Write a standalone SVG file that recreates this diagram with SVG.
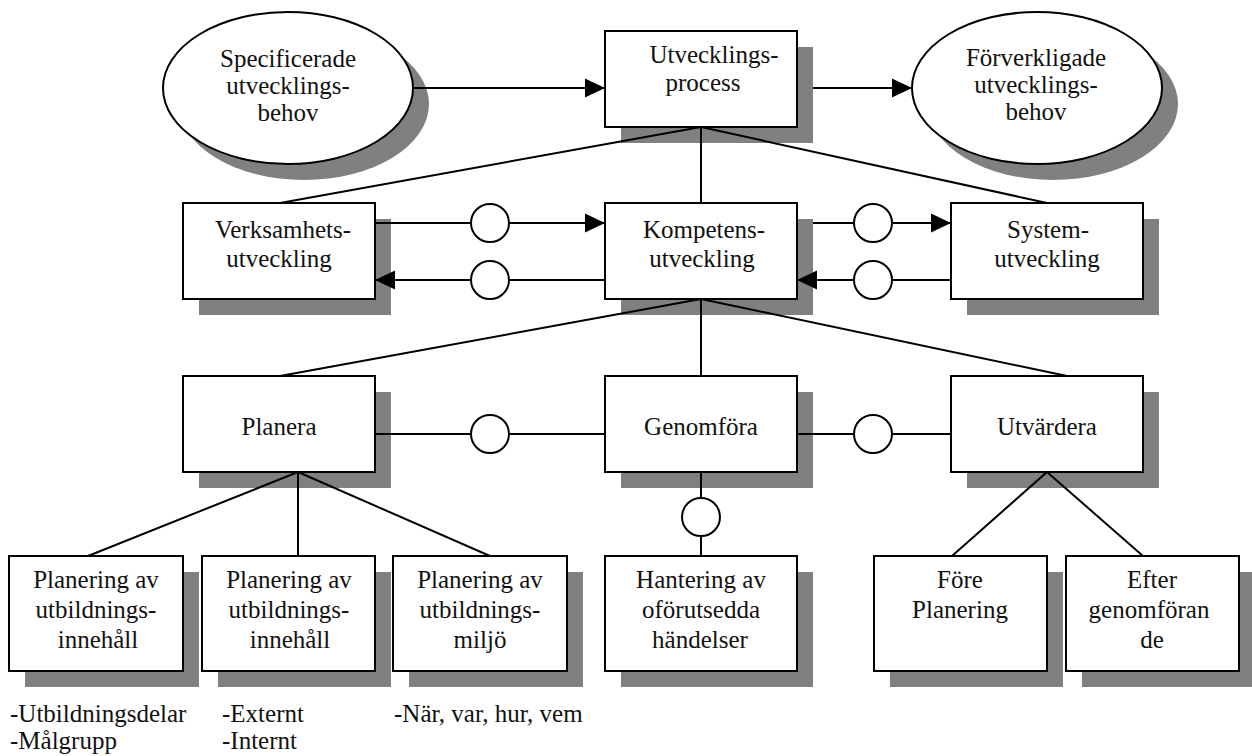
<svg xmlns="http://www.w3.org/2000/svg" width="1252" height="756" viewBox="0 0 1252 756">
  <style>
    .box { fill: #ffffff; stroke: #000000; stroke-width: 2; }
    .shadow { fill: #808080; stroke: none; }
    .lbl { font-family: "Liberation Serif", "Times New Roman", serif; font-size: 25px; fill: #111111; text-anchor: middle; }
    .note { font-family: "Liberation Serif", "Times New Roman", serif; font-size: 25px; fill: #111111; }
    .edge { stroke: #000000; stroke-width: 2; fill: none; }
    .arrow { marker-end: url(#head); }
    .junction { fill: #ffffff; stroke: #000000; stroke-width: 2; }
  </style>
  <defs>
    <marker id="head" markerUnits="userSpaceOnUse" markerWidth="20" markerHeight="20" refX="20" refY="10" orient="auto">
      <path d="M0,0.5 L20,10 L0,19.5 z" fill="#000000"/>
    </marker>
  </defs>
  <rect width="1252" height="756" fill="#ffffff"/>

  <!-- top row -->
  <g id="specificerade">
    <ellipse class="shadow" cx="304" cy="104" rx="125" ry="76"/>
    <ellipse class="box" cx="288" cy="88" rx="125" ry="76"/>
    <text class="lbl" x="288" y="67">Specificerade</text>
    <text class="lbl" x="288" y="94">utvecklings-</text>
    <text class="lbl" x="288" y="121">behov</text>
  </g>
  <g id="utvecklingsprocess">
    <rect class="shadow" x="621" y="47" width="192" height="96"/>
    <rect class="box" x="605" y="31" width="192" height="96"/>
    <text class="lbl" x="714" y="63">Utvecklings-</text>
    <text class="lbl" x="703" y="91">process</text>
  </g>
  <g id="forverkligade">
    <ellipse class="shadow" cx="1053" cy="104" rx="125" ry="76"/>
    <ellipse class="box" cx="1037" cy="88" rx="125" ry="76"/>
    <text class="lbl" x="1036" y="66">Förverkligade</text>
    <text class="lbl" x="1036" y="93">utvecklings-</text>
    <text class="lbl" x="1036" y="120">behov</text>
  </g>

  <!-- second row -->
  <g id="verksamhetsutveckling">
    <rect class="shadow" x="199" y="219" width="192" height="96"/>
    <rect class="box" x="183" y="203" width="192" height="96"/>
    <text class="lbl" x="283" y="238">Verksamhets-</text>
    <text class="lbl" x="279" y="267">utveckling</text>
  </g>
  <g id="kompetensutveckling">
    <rect class="shadow" x="621" y="219" width="192" height="96"/>
    <rect class="box" x="605" y="203" width="192" height="96"/>
    <text class="lbl" x="704" y="238">Kompetens-</text>
    <text class="lbl" x="702" y="267">utveckling</text>
  </g>
  <g id="systemutveckling">
    <rect class="shadow" x="967" y="219" width="192" height="96"/>
    <rect class="box" x="951" y="203" width="192" height="96"/>
    <text class="lbl" x="1048" y="238">System-</text>
    <text class="lbl" x="1047" y="267">utveckling</text>
  </g>

  <!-- third row -->
  <g id="planera">
    <rect class="shadow" x="199" y="392" width="192" height="96"/>
    <rect class="box" x="183" y="376" width="192" height="96"/>
    <text class="lbl" x="279" y="435">Planera</text>
  </g>
  <g id="genomfora">
    <rect class="shadow" x="621" y="392" width="192" height="96"/>
    <rect class="box" x="605" y="376" width="192" height="96"/>
    <text class="lbl" x="701" y="435">Genomföra</text>
  </g>
  <g id="utvardera">
    <rect class="shadow" x="967" y="392" width="192" height="96"/>
    <rect class="box" x="951" y="376" width="192" height="96"/>
    <text class="lbl" x="1047" y="435">Utvärdera</text>
  </g>

  <!-- fourth row -->
  <g id="planering-innehall-1">
    <rect class="shadow" x="25" y="572" width="174" height="115"/>
    <rect class="box" x="9" y="556" width="174" height="115"/>
    <text class="lbl" x="96" y="588">Planering av</text>
    <text class="lbl" x="96" y="618">utbildnings-</text>
    <text class="lbl" x="98" y="648">innehåll</text>
  </g>
  <g id="planering-innehall-2">
    <rect class="shadow" x="218" y="572" width="173" height="115"/>
    <rect class="box" x="202" y="556" width="173" height="115"/>
    <text class="lbl" x="289" y="588">Planering av</text>
    <text class="lbl" x="289" y="618">utbildnings-</text>
    <text class="lbl" x="290" y="648">innehåll</text>
  </g>
  <g id="planering-miljo">
    <rect class="shadow" x="409" y="572" width="174" height="115"/>
    <rect class="box" x="393" y="556" width="174" height="115"/>
    <text class="lbl" x="480" y="588">Planering av</text>
    <text class="lbl" x="480" y="618">utbildnings-</text>
    <text class="lbl" x="480" y="648">miljö</text>
  </g>
  <g id="hantering">
    <rect class="shadow" x="621" y="572" width="192" height="115"/>
    <rect class="box" x="605" y="556" width="192" height="115"/>
    <text class="lbl" x="701" y="588">Hantering av</text>
    <text class="lbl" x="701" y="618">oförutsedda</text>
    <text class="lbl" x="700" y="648">händelser</text>
  </g>
  <g id="fore">
    <rect class="shadow" x="890" y="572" width="173" height="115"/>
    <rect class="box" x="874" y="556" width="173" height="115"/>
    <text class="lbl" x="960" y="588">Före</text>
    <text class="lbl" x="960" y="618">Planering</text>
  </g>
  <g id="efter">
    <rect class="shadow" x="1082" y="572" width="173" height="115"/>
    <rect class="box" x="1066" y="556" width="173" height="115"/>
    <text class="lbl" x="1152" y="588">Efter</text>
    <text class="lbl" x="1149" y="618">genomföran</text>
    <text class="lbl" x="1152" y="648">de</text>
  </g>

  <!-- connectors -->
  <g id="connectors">
    <line class="edge arrow" x1="413" y1="88" x2="605" y2="88"/>
    <line class="edge arrow" x1="813" y1="88" x2="912" y2="88"/>

    <line class="edge" x1="701" y1="127" x2="280" y2="203"/>
    <line class="edge" x1="701" y1="127" x2="701" y2="203"/>
    <line class="edge" x1="701" y1="127" x2="1047" y2="203"/>

    <line class="edge arrow" x1="375" y1="223" x2="605" y2="223"/>
    <line class="edge arrow" x1="605" y1="280" x2="375" y2="280"/>
    <line class="edge arrow" x1="813" y1="223" x2="951" y2="223"/>
    <line class="edge arrow" x1="951" y1="280" x2="797" y2="280"/>
    <circle class="junction" cx="490" cy="223" r="19"/>
    <circle class="junction" cx="490" cy="280" r="19"/>
    <circle class="junction" cx="873" cy="223" r="19"/>
    <circle class="junction" cx="873" cy="280" r="19"/>

    <line class="edge" x1="701" y1="299" x2="280" y2="376"/>
    <line class="edge" x1="701" y1="299" x2="701" y2="376"/>
    <line class="edge" x1="701" y1="299" x2="1067" y2="376"/>

    <line class="edge" x1="375" y1="434" x2="605" y2="434"/>
    <line class="edge" x1="797" y1="434" x2="951" y2="434"/>
    <circle class="junction" cx="490" cy="434" r="19"/>
    <circle class="junction" cx="873" cy="434" r="19"/>

    <line class="edge" x1="701" y1="472" x2="701" y2="556"/>
    <circle class="junction" cx="701" cy="517" r="19"/>

    <line class="edge" x1="298" y1="472" x2="88" y2="556"/>
    <line class="edge" x1="298" y1="472" x2="298" y2="556"/>
    <line class="edge" x1="298" y1="472" x2="490" y2="556"/>

    <line class="edge" x1="1047" y1="472" x2="952" y2="556"/>
    <line class="edge" x1="1047" y1="472" x2="1143" y2="556"/>
  </g>

  <!-- notes under the planning boxes -->
  <g id="notes">
    <text class="note" x="10" y="722">-Utbildningsdelar</text>
    <text class="note" x="10" y="749">-Målgrupp</text>
    <text class="note" x="222" y="722">-Externt</text>
    <text class="note" x="222" y="749">-Internt</text>
    <text class="note" x="394" y="722">-När, var, hur, vem</text>
  </g>
</svg>
